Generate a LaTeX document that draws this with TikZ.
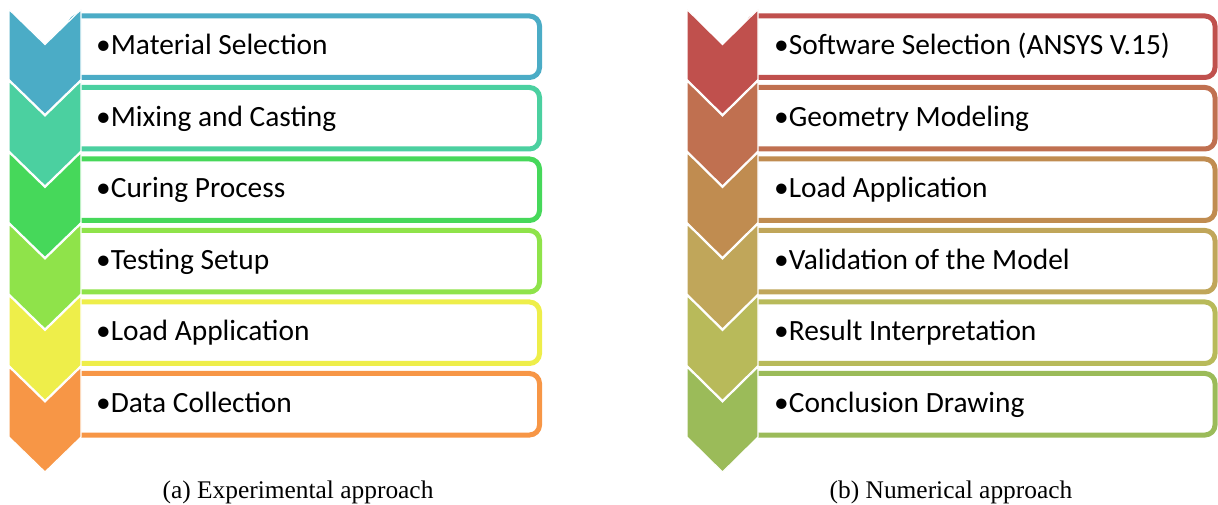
\documentclass[tikz,border=0pt]{standalone}
\usepackage{fontspec}
\setmainfont{Carlito}
\newfontfamily\capfont{Liberation Serif}
\begin{document}
\begin{tikzpicture}[x=1bp,y=-1bp]
\useasboundingbox (0,0) rectangle (1218,505);
\tikzset{
  chev/.style={fill=#1, draw=white, line width=1.2bp, line join=miter},
  card/.style={draw=#1, fill=white, line width=5bp, rounded corners=10bp},
  itemtext/.style={anchor=base west, inner sep=0pt, font=\fontsize{29.5}{33}\selectfont},
  captext/.style={anchor=base, inner sep=0pt, font=\capfont\fontsize{25.5}{29}\selectfont},
}
% left column colours
\definecolor{La}{RGB}{75,172,198}
\definecolor{Lb}{RGB}{75,208,160}
\definecolor{Lc}{RGB}{70,216,90}
\definecolor{Ld}{RGB}{143,227,74}
\definecolor{Le}{RGB}{238,238,74}
\definecolor{Lf}{RGB}{247,150,70}
% right column colours
\definecolor{Ra}{RGB}{192,80,77}
\definecolor{Rb}{RGB}{192,112,80}
\definecolor{Rc}{RGB}{192,140,80}
\definecolor{Rd}{RGB}{192,166,90}
\definecolor{Re}{RGB}{184,186,90}
\definecolor{Rf}{RGB}{155,187,89}

% cards (drawn first, chevrons overlap their left ends)
\foreach \c [count=\i from 0] in {La,Lb,Lc,Ld,Le,Lf}{
  \pgfmathsetmacro\yo{9.5+71.5*\i}
  \draw[card=\c] (70,\yo+6.5) rectangle (539.5,\yo+68);
}
\foreach \c [count=\i from 0] in {Ra,Rb,Rc,Rd,Re,Rf}{
  \pgfmathsetmacro\yo{9.5+71.5*\i}
  \draw[card=\c] (748,\yo+6.5) rectangle (1215,\yo+68);
}
% chevrons
\foreach \c [count=\i from 0] in {La,Lb,Lc,Ld,Le,Lf}{
  \pgfmathsetmacro\yo{9.5+71.5*\i}
  \draw[chev=\c] (9,\yo) -- (45,\yo+35) -- (81,\yo) -- (81,\yo+70)
        -- (45,\yo+105) -- (9,\yo+70) -- cycle;
}
\foreach \c [count=\i from 0] in {Ra,Rb,Rc,Rd,Re,Rf}{
  \pgfmathsetmacro\yo{9.5+71.5*\i}
  \draw[chev=\c] (687,\yo) -- (722.5,\yo+35) -- (758,\yo) -- (758,\yo+70)
        -- (722.5,\yo+105) -- (687,\yo+70) -- cycle;
}
% item texts
\node[itemtext] (l1) at (96,55)    {•Material Selection};
\node[itemtext] (l2) at (96,126.5) {•Mixing and Casting};
\node[itemtext] (l3) at (96,198)   {•Curing Process};
\node[itemtext] (l4) at (96,269.5) {•Testing Setup};
\node[itemtext] (l5) at (96,341)   {•Load Application};
\node[itemtext] (l6) at (96,412.5) {•Data Collection};
\node[itemtext] (r1) at (774,55)    {•Software Selection (ANSYS V.15)};
\node[itemtext] (r2) at (774,126.5) {•Geometry Modeling};
\node[itemtext] (r3) at (774,198)   {•Load Application};
\node[itemtext] (r4) at (774,269.5) {•Validation of the Model};
\node[itemtext] (r5) at (774,341)   {•Result Interpretation};
\node[itemtext] (r6) at (774,412.5) {•Conclusion Drawing};
% captions
\node[captext] (ca) at (298,498) {(a) Experimental approach};
\node[captext] (cb) at (951,498) {(b) Numerical approach};
\end{tikzpicture}
\end{document}
